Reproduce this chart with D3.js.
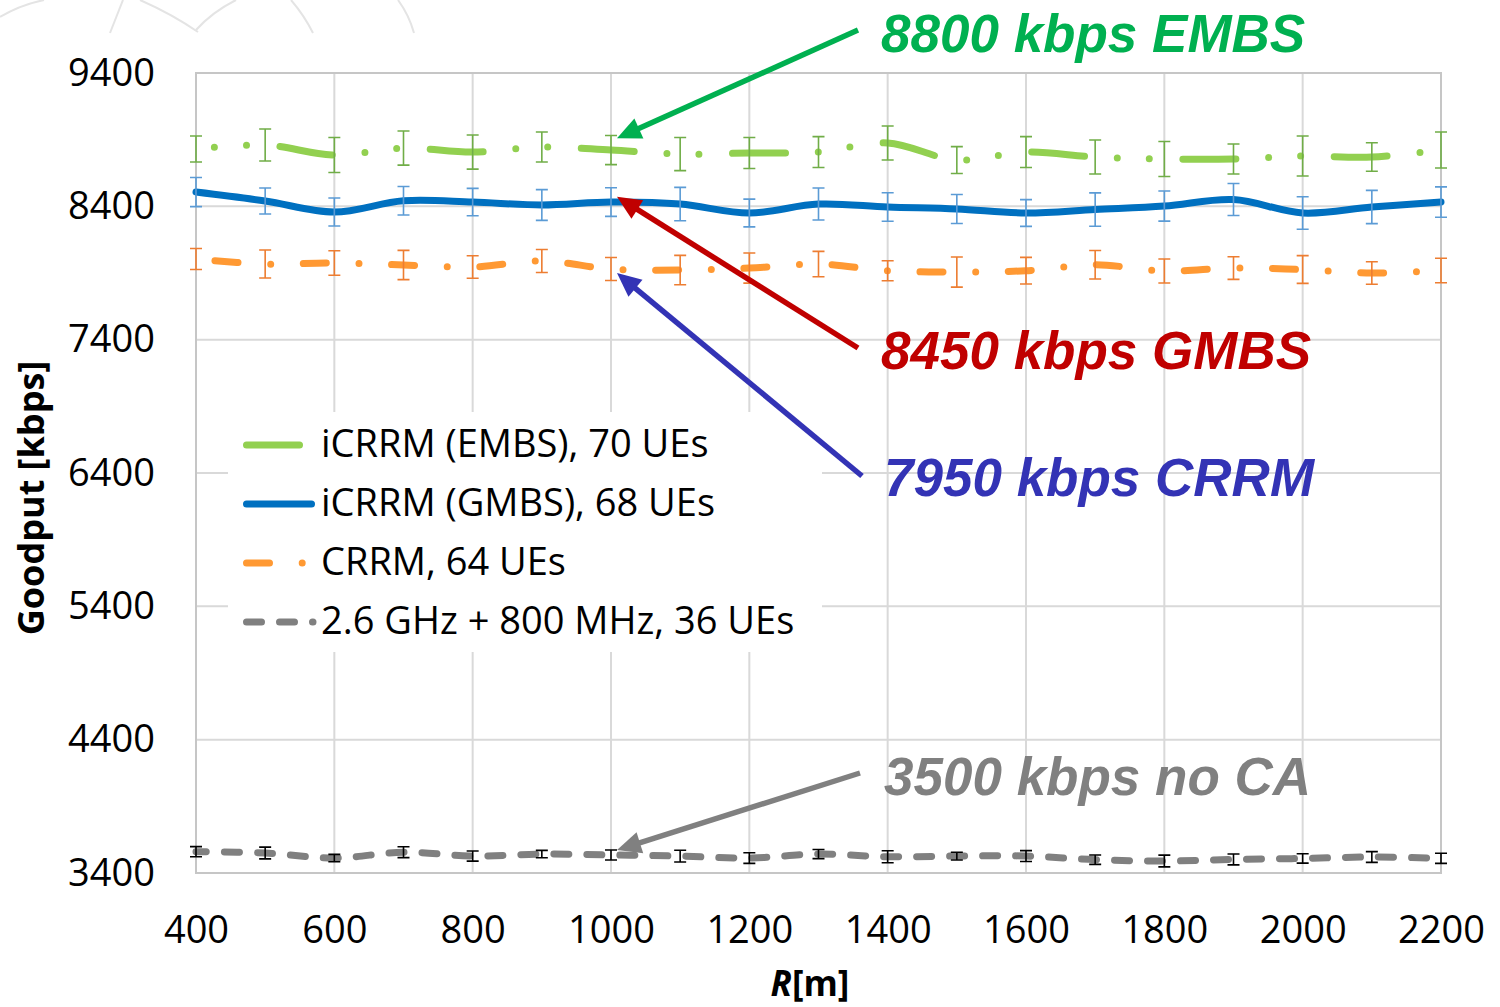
<!DOCTYPE html>
<html>
<head>
<meta charset="utf-8">
<script src="https://cdn.jsdelivr.net/npm/d3@7"></script>
<style>
  html, body { margin: 0; padding: 0; background: #ffffff; }
  svg { display: block; }
</style>
</head>
<body>
<svg id="chart" width="1500" height="1007"></svg>
<script>
// Distance R [m] sampled every 100 m
const distances = [400, 500, 600, 700, 800, 900, 1000, 1100, 1200, 1300, 1400, 1500, 1600, 1700, 1800, 1900, 2000, 2100, 2200];

// Goodput [kbps] per scheme
const embsGoodput = [8830, 8860, 8785, 8837, 8807, 8845, 8822, 8792, 8800, 8807, 8875, 8747, 8807, 8770, 8755, 8755, 8777, 8770, 8822];
const gmbsGoodput = [8507, 8440, 8357, 8442, 8432, 8410, 8432, 8417, 8350, 8417, 8395, 8380, 8350, 8376, 8402, 8451, 8350, 8395, 8432];
const crrmGoodput = [8005, 7967, 7975, 7960, 7945, 7990, 7930, 7922, 7937, 7967, 7917, 7907, 7917, 7962, 7915, 7937, 7926, 7900, 7919];
const noCaGoodput = [3560, 3550, 3512, 3556, 3527, 3542, 3535, 3527, 3512, 3542, 3522, 3527, 3527, 3500, 3490, 3502, 3509, 3520, 3510];

// Confidence half-widths [kbps]
const embsError = [98, 120, 131, 128, 128, 113, 109, 124, 116, 116, 128, 101, 116, 128, 131, 113, 150, 107, 135];
const gmbsError = [109, 98, 105, 107, 103, 115, 107, 125, 104, 120, 107, 109, 100, 125, 113, 120, 122, 125, 114];
const crrmError = [79, 105, 92, 110, 84, 86, 86, 110, 113, 95, 75, 113, 100, 107, 90, 85, 104, 84, 92];
const noCaError = [38, 44, 28, 41, 38, 28, 38, 44, 40, 34, 45, 29, 41, 35, 44, 41, 35, 40, 38];

const seriesNames = ["iCRRM (EMBS), 70 UEs", "iCRRM (GMBS), 68 UEs", "CRRM, 64 UEs", "2.6 GHz + 800 MHz, 36 UEs"];

// Axis ticks
const xTicks = [400, 600, 800, 1000, 1200, 1400, 1600, 1800, 2000, 2200];
const yTicks = [3400, 4400, 5400, 6400, 7400, 8400, 9400];

// Callouts: label, value the arrow points at (at R = 1000 m)
const calloutLabels = ["8800 kbps EMBS", "8450 kbps GMBS", "7950 kbps CRRM", "3500 kbps no CA"];
const calloutTargets = [8910, 8472, 7900, 3572];
const calloutR = 1000;

// ---------------------------------------------------------------
const svg = d3.select("#chart");
const plot = { left: 196, right: 1441, top: 73, bottom: 873 };

const x = d3.scaleLinear().domain([400, 2200]).range([plot.left, plot.right]);
const y = d3.scaleLinear().domain([3400, 9400]).range([plot.bottom, plot.top]);

const FONT = "'Open Sans', 'Noto Sans', sans-serif";

// faint decorative strokes along the top edge
const deco = svg.append("g").attr("fill", "none").attr("stroke", "#e4e4e4").attr("stroke-width", 2);
[
  "M0,17 Q20,5 44,0",
  "M110,33 L123,0",
  "M140,0 Q172,14 198,32",
  "M196,30 Q212,12 236,0",
  "M313,33 Q304,15 291,0",
  "M414,33 Q409,15 398,0"
].forEach(d => deco.append("path").attr("d", d));

// gridlines
const grid = svg.append("g").attr("stroke", "#d9d9d9").attr("stroke-width", 2);
grid.selectAll("line.h").data(yTicks).join("line")
  .attr("x1", plot.left).attr("x2", plot.right)
  .attr("y1", d => y(d)).attr("y2", d => y(d));
grid.selectAll("line.v").data(xTicks).join("line")
  .attr("y1", plot.top).attr("y2", plot.bottom)
  .attr("x1", d => x(d)).attr("x2", d => x(d));

// plot frame
svg.append("rect")
  .attr("x", plot.left).attr("y", plot.top)
  .attr("width", plot.right - plot.left).attr("height", plot.bottom - plot.top)
  .attr("fill", "none").attr("stroke", "#c6c6c6").attr("stroke-width", 2);

// axes (labels only)
const xAxis = svg.append("g")
  .attr("transform", `translate(0,${plot.bottom})`)
  .call(d3.axisBottom(x).tickValues(xTicks).tickSize(0).tickPadding(43).tickFormat(d3.format("d")));
const yAxis = svg.append("g")
  .attr("transform", `translate(${plot.left},0)`)
  .call(d3.axisLeft(y).tickValues(yTicks).tickSize(0).tickPadding(41).tickFormat(d3.format("d")));
[xAxis, yAxis].forEach(a => {
  a.select(".domain").remove();
  a.selectAll("text").attr("font-family", FONT).attr("font-size", 38).attr("fill", "#000");
});

// axis titles
svg.append("text")
  .attr("transform", `translate(44,498) rotate(-90)`)
  .attr("text-anchor", "middle")
  .attr("font-family", FONT).attr("font-weight", 700).attr("font-size", 36)
  .text("Goodput [kbps]");
const xTitle = svg.append("text")
  .attr("x", 810).attr("y", 996)
  .attr("text-anchor", "middle")
  .attr("font-family", FONT).attr("font-weight", 700).attr("font-size", 35);
xTitle.append("tspan").attr("font-style", "italic").text("R");
xTitle.append("tspan").text("[m]");

// series definitions
const series = [
  { name: seriesNames[0], values: embsGoodput, errors: embsError, color: "#92d050", errColor: "#70ad47", dash: "53 32.8 0 32 0 33.6", offset: 67.2, legendLen: 54 },
  { name: seriesNames[1], values: gmbsGoodput, errors: gmbsError, color: "#0070c0", errColor: "#5b9bd5", dash: null, offset: 0, legendLen: 65 },
  { name: seriesNames[2], values: crrmGoodput, errors: crrmError, color: "#ff9933", errColor: "#ed7d31", dash: "23 32.7 0 32.6", offset: 69.1, legendLen: 56 },
  { name: seriesNames[3], values: noCaGoodput, errors: noCaError, color: "#808080", errColor: "#000000", dash: "15 18", offset: 4.5, legendLen: 66.5 }
];

const line = d3.line()
  .x(d => x(d.r)).y(d => y(d.v))
  .curve(d3.curveCatmullRom.alpha(0.5));

// legend box (white fill hides gridlines behind it)
svg.append("rect")
  .attr("x", 228).attr("y", 412).attr("width", 594).attr("height", 240)
  .attr("fill", "#ffffff");

// series lines
const linesG = svg.append("g");
series.forEach(s => {
  const pts = distances.map((r, i) => ({ r, v: s.values[i] }));
  linesG.append("path")
    .datum(pts)
    .attr("d", line)
    .attr("fill", "none")
    .attr("stroke", s.color)
    .attr("stroke-width", 7)
    .attr("stroke-linecap", "round")
    .attr("stroke-linejoin", "round")
    .attr("stroke-dasharray", s.dash)
    .attr("stroke-dashoffset", s.offset);
});

// error bars
const capHalf = 6;
series.forEach(s => {
  const g = svg.append("g").attr("stroke", s.errColor).attr("stroke-width", 1.6).attr("fill", "none");
  const pts = distances.map((r, i) => ({ r, v: s.values[i], e: s.errors[i] }));
  g.selectAll("path").data(pts).join("path")
    .attr("d", d => {
      const cx = x(d.r), y0 = y(d.v - d.e), y1 = y(d.v + d.e);
      return `M${cx},${y0}V${y1}M${cx - capHalf},${y0}H${cx + capHalf}M${cx - capHalf},${y1}H${cx + capHalf}`;
    });
});

// legend entries
const legendRows = [445, 504, 563, 622];
series.forEach((s, i) => {
  const ly = legendRows[i];
  svg.append("line")
    .attr("x1", 246.5).attr("x2", 246.5 + s.legendLen)
    .attr("y1", ly).attr("y2", ly)
    .attr("stroke", s.color).attr("stroke-width", 7)
    .attr("stroke-linecap", "round")
    .attr("stroke-dasharray", s.dash);
  svg.append("text")
    .attr("x", 321).attr("y", ly + 12)
    .attr("font-family", FONT).attr("font-size", 38).attr("fill", "#000")
    .text(s.name);
});

// callouts with arrows
const callouts = [
  { label: calloutLabels[0], target: calloutTargets[0], color: "#00b050", tail: [858, 30],  tx: 881, ty: 52 },
  { label: calloutLabels[1], target: calloutTargets[1], color: "#c00000", tail: [858, 348], tx: 881, ty: 369 },
  { label: calloutLabels[2], target: calloutTargets[2], color: "#3333b5", tail: [862, 476], tx: 884, ty: 496 },
  { label: calloutLabels[3], target: calloutTargets[3], color: "#808080", tail: [860, 773], tx: 884, ty: 795 }
];
callouts.forEach(c => {
  const tip = [x(calloutR) + 6, y(c.target)];
  const dx = tip[0] - c.tail[0], dy = tip[1] - c.tail[1];
  const len = Math.hypot(dx, dy);
  const ux = dx / len, uy = dy / len;
  const headLen = 24, headHalf = 11;
  const base = [tip[0] - ux * headLen, tip[1] - uy * headLen];
  svg.append("line")
    .attr("x1", c.tail[0]).attr("y1", c.tail[1])
    .attr("x2", base[0] + ux * 2).attr("y2", base[1] + uy * 2)
    .attr("stroke", c.color).attr("stroke-width", 5.5);
  svg.append("path")
    .attr("d", `M${tip[0]},${tip[1]}L${base[0] - uy * headHalf},${base[1] + ux * headHalf}L${base[0] + uy * headHalf},${base[1] - ux * headHalf}Z`)
    .attr("fill", c.color);
  svg.append("text")
    .attr("x", c.tx).attr("y", c.ty)
    .attr("font-family", "'Liberation Sans', Arial, sans-serif")
    .attr("font-weight", 700).attr("font-style", "italic")
    .attr("font-size", 53)
    .attr("fill", c.color)
    .text(c.label);
});
</script>
</body>
</html>
